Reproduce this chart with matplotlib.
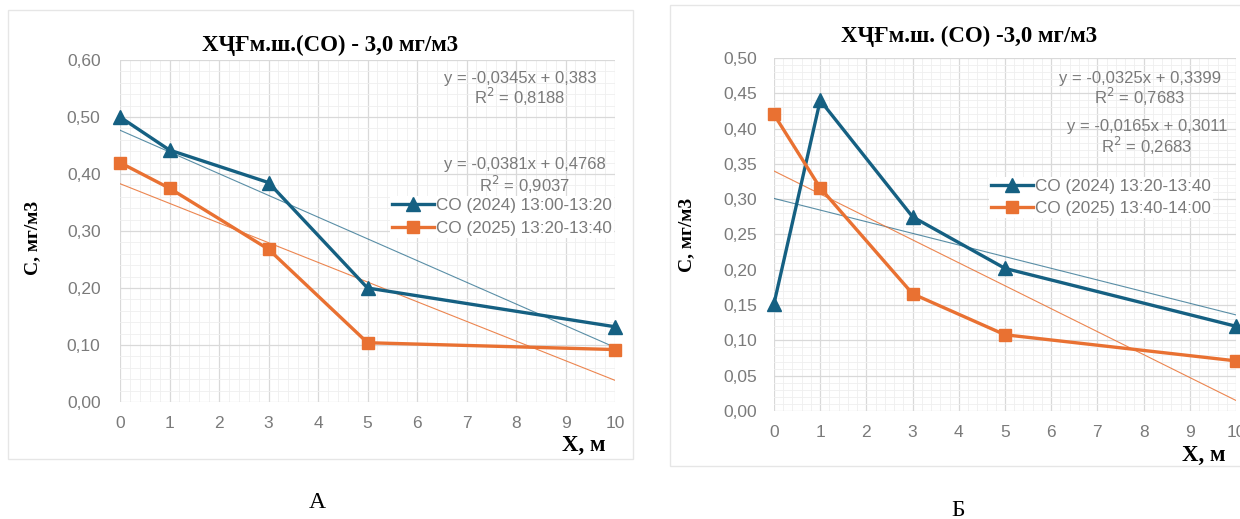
import numpy as np
import matplotlib
matplotlib.use("Agg")
import matplotlib.pyplot as plt
from matplotlib.patches import Rectangle
from matplotlib.ticker import MultipleLocator, FuncFormatter

# Distance from source, m
x = [0, 1, 3, 5, 10]

# Panel A: CO concentration, mg/m3
a_2024 = [0.50, 0.442, 0.385, 0.200, 0.132]
a_2025 = [0.42, 0.375, 0.268, 0.104, 0.092]
a_trend_2024 = (-0.0381, 0.4768, 0.9037)
a_trend_2025 = (-0.0345, 0.383, 0.8188)

# Panel B: CO concentration, mg/m3
b_2024 = [0.152, 0.440, 0.275, 0.202, 0.120]
b_2025 = [0.420, 0.316, 0.166, 0.108, 0.071]
b_trend_2024 = (-0.0165, 0.3011, 0.2683)
b_trend_2025 = (-0.0325, 0.3399, 0.7683)

BLUE = "#156082"
ORANGE = "#E97132"
GRAY = "#7a7a7a"
SANS = ["Liberation Sans", "DejaVu Sans"]
SERIF = ["Liberation Serif", "DejaVu Serif"]

W, H = 1240, 519
fig = plt.figure(figsize=(W / 100, H / 100), dpi=100)
fig.patch.set_facecolor("white")


def px(x0, y0, w, h):
    # pixel box (top-left origin) -> figure fraction
    return [x0 / W, 1 - (y0 + h) / H, w / W, h / H]


def at(xp, yp):
    return xp / W, 1 - yp / H


def comma(v, _=None, nd=2):
    return f"{v:.{nd}f}".replace(".", ",")


def equation(xc, y1, y2, m, b, r2):
    fig.text(*at(xc, y1), f"y = {comma(m, nd=4)}x + {str(b).replace('.', ',')}",
             ha="center", va="center", fontsize=12, color=GRAY, family=SANS,
             zorder=5)
    fig.text(*at(xc, y2), f"R$^2$ = {comma(r2, nd=4)}",
             ha="center", va="center", fontsize=12, color=GRAY, family=SANS,
             zorder=5)


def panel(rect, ymax, ystep, s24, s25, t24, t25, lab24, lab25, ypad):
    ax = fig.add_axes(rect, zorder=2)
    ax.set_facecolor("white")
    ax.set_xlim(0, 10)
    ax.set_ylim(0, ymax)
    ax.xaxis.set_major_locator(MultipleLocator(1))
    ax.xaxis.set_minor_locator(MultipleLocator(0.2))
    ax.yaxis.set_major_locator(MultipleLocator(ystep))
    ax.yaxis.set_minor_locator(MultipleLocator(ystep / 5))
    ax.yaxis.set_major_formatter(FuncFormatter(comma))
    ax.grid(which="major", color="#d9d9d9", lw=0.9)
    ax.grid(which="minor", color="#efefef", lw=0.6)
    ax.set_axisbelow(True)
    for s in ax.spines.values():
        s.set_visible(False)
    ax.tick_params(which="both", length=0, labelsize=12.5, labelcolor=GRAY)
    ax.tick_params(axis="x", pad=10)
    ax.tick_params(axis="y", pad=ypad)
    for t in ax.get_xticklabels() + ax.get_yticklabels():
        t.set_fontfamily(SANS)

    xs = np.array([0, 10])
    ax.plot(xs, t24[0] * xs + t24[1], color=BLUE, lw=0.8, alpha=0.7)
    ax.plot(xs, t25[0] * xs + t25[1], color=ORANGE, lw=0.8, alpha=0.85)
    ax.plot(x, s24, color=BLUE, lw=2.4, marker="^", ms=10.5, label=lab24,
            clip_on=False, zorder=4)
    ax.plot(x, s25, color=ORANGE, lw=2.4, marker="s", ms=8.5, label=lab25,
            clip_on=False, zorder=4)
    return ax


def legend(ax, xl, ytop, spacing):
    leg = ax.legend(loc="upper left", bbox_to_anchor=at(xl, ytop),
                    bbox_transform=fig.transFigure, frameon=True,
                    framealpha=1, edgecolor="none", fancybox=False,
                    fontsize=12.3, handlelength=2.5, handletextpad=0.1,
                    borderpad=0.1, labelspacing=spacing, borderaxespad=0)
    for t in leg.get_texts():
        t.set_color(GRAY)
        t.set_fontfamily(SANS)
    return leg


# ---- Panel A ----
fig.add_artist(Rectangle(at(8, 459), 625 / W, 449 / H,
                         transform=fig.transFigure, fc="white",
                         ec="#e6e6e6", lw=1, zorder=-1))
axA = panel(px(120, 60, 495, 342), 0.60, 0.10, a_2024, a_2025,
            a_trend_2024, a_trend_2025,
            "CO (2024) 13:00-13:20", "CO (2025) 13:20-13:40", ypad=14)
equation(520, 78, 97, *a_trend_2025)
equation(525, 164, 185, *a_trend_2024)
legend(axA, 390, 196, 0.5)
fig.text(*at(330, 45), "ХҶҒм.ш.(СО) - 3,0 мг/м3", ha="center",
         va="center", fontsize=16.5, fontweight="bold", family=SERIF)
fig.text(*at(33, 238), "С, мг/м3", rotation=90, ha="center",
         va="center", fontsize=14, fontweight="bold", family=SERIF)
fig.text(*at(606, 445), "X, м", ha="right", va="center",
         fontsize=16.5, fontweight="bold", family=SERIF)
fig.text(*at(317, 502), "А", ha="center", va="center",
         fontsize=17, family=SERIF)

# ---- Panel B ----
fig.add_artist(Rectangle(at(670, 466), 600 / W, 461 / H,
                         transform=fig.transFigure, fc="white",
                         ec="#e6e6e6", lw=1, zorder=-1))
axB = panel(px(774, 58, 462, 353), 0.50, 0.05, b_2024, b_2025,
            b_trend_2024, b_trend_2025,
            "CO (2024) 13:20-13:40", "CO (2025) 13:40-14:00", ypad=12)
equation(1140, 78, 97, *b_trend_2025)
equation(1147, 127, 146, *b_trend_2024)
legend(axB, 989, 177, 0.45)
fig.text(*at(969, 36), "ХҶҒм.ш. (СО) -3,0 мг/м3", ha="center",
         va="center", fontsize=16.5, fontweight="bold", family=SERIF)
fig.text(*at(687, 235), "С, мг/м3", rotation=90, ha="center",
         va="center", fontsize=14, fontweight="bold", family=SERIF)
fig.text(*at(1225, 455), "X, м", ha="right", va="center",
         fontsize=16.5, fontweight="bold", family=SERIF)
fig.text(*at(958, 510), "Б", ha="center", va="center",
         fontsize=17, family=SERIF)

fig.savefig("out.png", dpi=100)
